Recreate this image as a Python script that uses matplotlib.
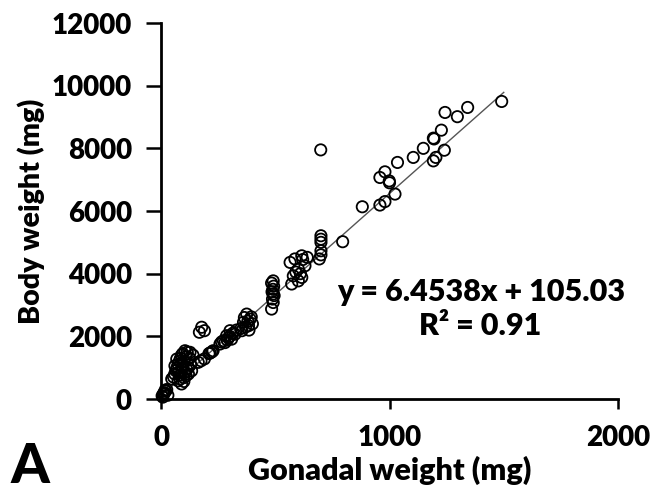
import matplotlib
matplotlib.use("Agg")
import matplotlib.pyplot as plt
import numpy as np

plt.rcParams['font.family'] = ['Lato', 'DejaVu Sans']

gonadal_weight = [
    5, 10, 15, 20, 8, 25, 12, 30, 18,
    47, 55, 60, 65, 70, 75, 80, 85, 90, 95, 105, 115, 127, 69, 61, 76, 83, 90,
    100, 112, 110, 134, 120, 100, 95, 105, 125, 140, 130, 75, 85, 100, 120, 110, 90,
    163, 175, 190, 168, 178, 190,
    210, 222, 228, 215,
    258, 273, 287, 302, 309, 324, 280, 295, 315, 300, 265, 330, 290,
    354, 361, 375, 383, 390, 370, 395, 350, 380, 400, 365, 385,
    484, 491, 488, 491, 490, 491, 484, 495, 486, 493,
    565, 586, 616, 630, 601, 579, 616, 572, 601, 620, 590, 610, 640,
    693, 700, 700, 700, 700, 699, 700,
    795, 881, 958, 980, 1024, 958, 980, 999, 1000, 1035, 1104, 1148, 1192, 1203,
    1240, 1192, 1195, 1227, 1243, 1297, 1342, 1491,
]
body_weight = [
    100, 150, 200, 250, 60, 300, 180, 120, 280,
    640, 700, 800, 900, 1000, 1100, 1200, 1300, 1400, 1450, 1540, 1500, 1490, 1275, 1060, 850, 640, 480,
    560, 955, 740, 900, 1000, 1200, 1000, 850, 1300, 1400, 1100, 580, 760, 680, 800, 1350, 1150,
    1170, 1220, 1280, 2130, 2290, 2180,
    1450, 1500, 1540, 1470,
    1755, 1860, 2020, 2180, 1910, 2070, 1800, 1950, 2100, 2000, 1820, 2200, 1880,
    2180, 2450, 2710, 2340, 2550, 2300, 2620, 2250, 2480, 2400, 2600, 2200,
    2870, 3080, 3190, 3350, 3500, 3770, 3700, 3300, 3420, 3600,
    4360, 4470, 4570, 4250, 4150, 3930, 3880, 3670, 3770, 4450, 4050, 4000, 4520,
    4470, 4730, 5000, 5100, 5210, 7950, 4600,
    5020, 6135, 6190, 6300, 6540, 7070, 7250, 6960, 6900, 7550, 7710, 8000, 7600, 7710,
    7940, 8325, 8300, 8580, 9145, 9010, 9305, 9496,
]

slope = 6.4538
intercept = 105.03
r_squared = 0.91
trend_x = [0, 1500]

x_ticks = [0, 1000, 2000]
y_ticks = [0, 2000, 4000, 6000, 8000, 10000, 12000]

W = 'heavy'

fig = plt.figure(figsize=(6.52, 5.04), dpi=100)
ax = fig.add_axes([161/652, 1 - 399/504, (618 - 161)/652, (399 - 23)/504])

tx = np.array(trend_x, dtype=float)
ax.plot(tx, slope * tx + intercept, color='#555555', lw=1.0, zorder=1)
ax.scatter(gonadal_weight, body_weight, s=66, facecolors='none',
           edgecolors='black', linewidths=1.3, zorder=2, clip_on=False)

for s in ['top', 'right']:
    ax.spines[s].set_visible(False)
for s in ['left', 'bottom']:
    ax.spines[s].set_linewidth(2.0)

ax.set_xlim(0, 2000)
ax.set_ylim(0, 12000)
ax.set_xticks(x_ticks)
ax.set_yticks(y_ticks)
ax.set_xticklabels([str(v) for v in x_ticks], fontsize=20, fontweight=W)
ax.set_yticklabels([str(v) for v in y_ticks], fontsize=20, fontweight=W)
ax.tick_params(axis='x', direction='out', length=7, width=1.8, pad=12)
ax.tick_params(axis='y', direction='out', length=11, width=1.8, pad=10)
ax.patch.set_alpha(0)

ax.set_xlabel('Gonadal weight (mg)', fontsize=22, fontweight=W, labelpad=3)
ax.set_ylabel('Body weight (mg)', fontsize=20.5, fontweight=W, labelpad=5)

fig.text(481/652, 1 - 292/504, f'y = {slope}x + {intercept:.2f}', fontsize=22,
         fontweight=W, ha='center', va='center')
fig.text(480/652, 1 - 326/504, f'R\u00b2 = {r_squared}', fontsize=22,
         fontweight=W, ha='center', va='center')
fig.text(30/652, 1 - 467/504, 'A', fontsize=40, fontweight='black', ha='center', va='center')

fig.savefig('out.png', dpi=100)
